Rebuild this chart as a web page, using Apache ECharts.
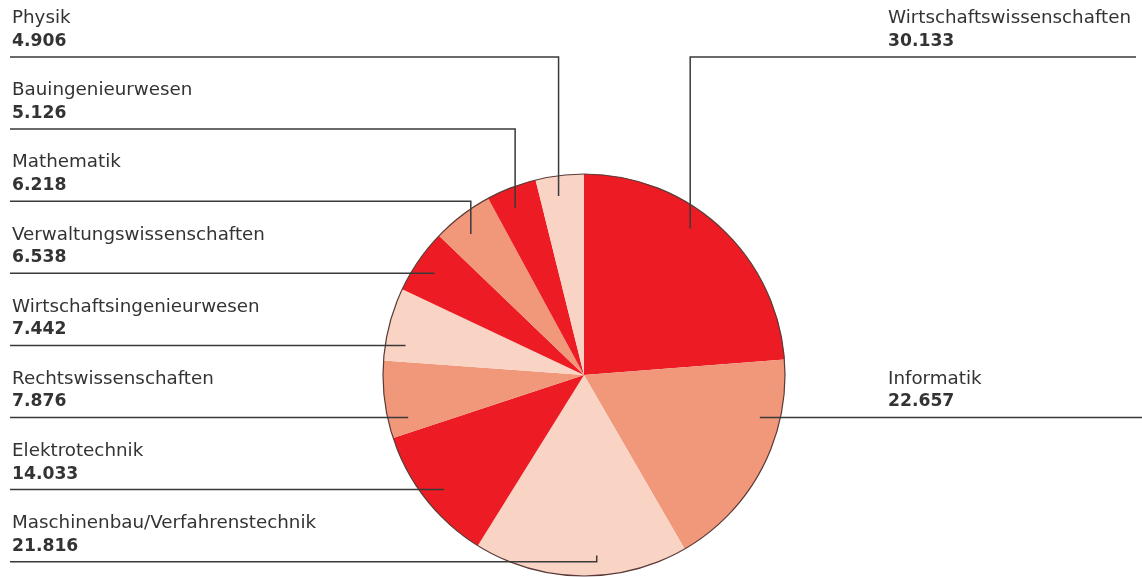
<!DOCTYPE html>
<html><head><meta charset="utf-8">
<script src="https://cdn.jsdelivr.net/npm/echarts@6/dist/echarts.min.js"></script>
<style>html,body{margin:0;padding:0;background:#fff}#c{width:1142px;height:578px}</style>
</head><body><div id="c"></div>
<script>
// ---- data ----
const categories = ['Wirtschaftswissenschaften','Informatik','Maschinenbau/Verfahrenstechnik','Elektrotechnik','Rechtswissenschaften','Wirtschaftsingenieurwesen','Verwaltungswissenschaften','Mathematik','Bauingenieurwesen','Physik'];
const values = [30133,22657,21816,14033,7876,7442,6538,6218,5126,4906];

// ---- layout / style ----
const RED = '#ED1C24', SALMON = '#F1977A', PEACH = '#F9D4C4';
const sliceColors = [RED, SALMON, PEACH, RED, SALMON, PEACH, RED, SALMON, RED, PEACH];
const CX = 584, CY = 375, R = 201;
const side = ['R','R','L','L','L','L','L','L','L','L'];
const row  = [0, 5, 7, 6, 5, 4, 3, 2, 1, 0];
const ROW0 = 57, ROWSTEP = 72.1;
const lineEndR = [1136, 1142];

function fmt(v){ return String(v).replace(/\B(?=(\d{3})+(?!\d))/g, '.'); }

const total = values.reduce((a,b)=>a+b,0);
let acc = 0;
const anchors = values.map((v,i)=>{
  const a0 = acc/total*2*Math.PI; acc += v; const a1 = acc/total*2*Math.PI;
  const lineY = ROW0 + row[i]*ROWSTEP;
  const rA = 0.9*R;
  const dyUp = CY - lineY;
  if (Math.abs(dyUp) < rA) {
    let th = Math.acos(dyUp/rA);
    if (side[i] === 'L') th = 2*Math.PI - th;
    if (th >= a0 && th <= a1) return [CX + rA*Math.sin(th), lineY, lineY];
  }
  const tm = a0 + (a1-a0)*0.42;
  return [CX + rA*Math.sin(tm), CY - rA*Math.cos(tm), lineY];
});

const chart = echarts.init(document.getElementById('c'), null, {renderer:'canvas'});
const FONT = 'DejaVu Sans';
const pieData = categories.map((c,i)=>({name:c, value:values[i]}));
chart.setOption({
  backgroundColor: '#fff',
  animation: false,
  series: [{
    // coloured slices
    type: 'pie',
    center: [CX, CY],
    radius: R,
    startAngle: 90,
    clockwise: true,
    silent: true,
    z: 2,
    data: pieData.map((d,i)=>({name:d.name, value:d.value, itemStyle:{color:sliceColors[i]}})),
    label: {show: false},
    labelLine: {show: false},
    emphasis: {disabled: true}
  }, {
    // outer outline
    type: 'pie',
    center: [CX, CY],
    radius: R,
    silent: true,
    z: 3,
    label: {show: false},
    labelLine: {show: false},
    data: [{value: 1, name: 'outline', itemStyle: {color: 'rgba(0,0,0,0)', borderColor: '#5a3a36', borderWidth: 1.2}}],
    emphasis: {disabled: true}
  }, {
    // labels and leader lines, on top
    type: 'pie',
    center: [CX, CY],
    radius: R,
    startAngle: 90,
    clockwise: true,
    silent: true,
    z: 10,
    avoidLabelOverlap: false,
    data: pieData.map(d=>({name:d.name, value:d.value, itemStyle:{color:'rgba(0,0,0,0)'}})),
    label: {
      show: true,
      position: 'outside',
      formatter: p => '{n|' + p.name + '}\n{v|' + fmt(p.value) + '}',
      rich: {
        n: {fontFamily: FONT, fontSize: 18.3, lineHeight: 23, color: '#333'},
        v: {fontFamily: FONT, fontSize: 17.2, lineHeight: 23, fontWeight: 'bold', color: '#333'}
      }
    },
    labelLine: {show: true, showAbove: true, length: 10, length2: 10, smooth: false, lineStyle: {color: '#3a3a3a', width: 1.5}},
    labelLayout: function(params){
      const i = params.dataIndex;
      const a = anchors[i];
      const lineY = a[2];
      const isL = side[i] === 'L';
      const endX = isL ? 10 : lineEndR[row[i] === 0 ? 0 : 1];
      return {
        x: isL ? 12 : 888,
        y: lineY - 4,
        align: 'left',
        verticalAlign: 'bottom',
        labelLinePoints: [[a[0], a[1]], [a[0], lineY], [endX, lineY]]
      };
    },
    emphasis: {disabled: true}
  }]
});
</script>
</body></html>
